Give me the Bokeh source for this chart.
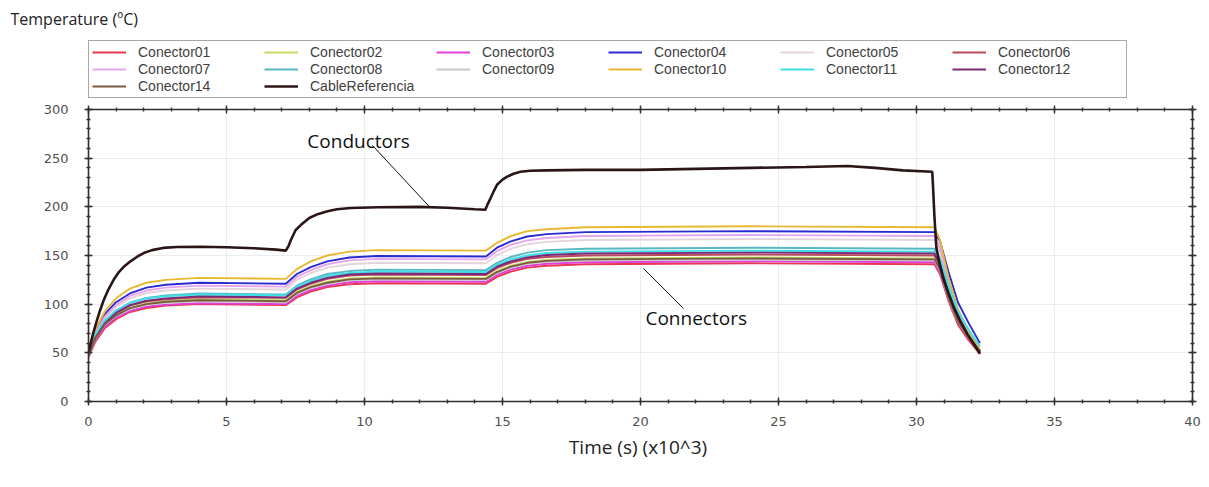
from bokeh.plotting import figure
from bokeh.layouts import column
from bokeh.models import (Legend, LegendItem, Label, LinearAxis, SingleIntervalTicker, Range1d,
                          CustomJSTickFormatter)
from bokeh.embed import file_html
from bokeh.resources import INLINE

# ---------------- data (time in x10^3 s, temperature in ºC) ----------------
time_conn = [0, 0.25, 0.6, 1.0, 1.5, 2.1, 2.8, 4.0, 7.15, 7.55, 8.05, 8.65, 9.45, 10.45,
             14.4, 14.8, 15.3, 15.9, 16.6, 18.0, 24.0, 30.65, 30.85, 31.15, 31.5, 31.9, 32.3]

conector01 = [45, 61.5, 75.5, 84.5, 92, 96, 98.5, 100, 99, 107, 113, 117.5, 120.5, 121.5,
              121, 128, 133.5, 137.5, 139.5, 141, 142, 141, 131, 104, 79, 62.5, 49]
conector02 = [46, 63.5, 78.5, 88.5, 96, 101, 103, 105, 104, 112.5, 118.5, 123, 126.5, 127.5,
              127, 134, 139.5, 143.5, 145.5, 147, 148, 147, 137, 108, 82.5, 65.5, 51]
conector03 = [48, 64, 77, 86, 93, 97.5, 99.5, 101, 100, 108.5, 114.5, 119, 122.5, 123.5,
              123, 130, 135.5, 139.5, 141.5, 143, 144, 143, 133, 106, 81.5, 64.5, 51]
conector04 = [50, 72, 90, 102, 111, 117, 120, 122, 121, 131, 138, 144, 148, 149.5,
              149, 158, 164.5, 169.5, 172, 174, 175, 174, 165, 134, 102, 80, 60]
conector05 = [50, 70, 86, 97.5, 106, 111.5, 114, 116, 115, 125, 132, 137.5, 141, 142.5,
              142, 150.5, 157, 161.5, 164, 166, 167, 166, 154, 120, 90, 69, 52]
conector06 = [50, 67, 81.5, 91, 98.5, 103, 105, 107, 106.5, 115, 121, 126, 129.5, 130.5,
              130, 137, 142.5, 146.5, 148.5, 150, 151, 150, 139.5, 110, 84, 66, 51]
conector07 = [49, 70, 87.5, 99, 108.5, 114, 117, 119, 118, 128, 135, 141, 145, 146.5,
              146, 154.5, 161, 165.5, 168, 170, 171, 170, 157.5, 122.5, 91, 70, 52.5]
conector08 = [48, 67, 82.5, 93.5, 101.5, 106.5, 109, 111, 110, 119, 125.5, 131, 134, 135.5,
              135, 142.5, 148.5, 153, 155.5, 157, 158, 157, 146, 114.5, 86.5, 67.5, 51.5]
conector09 = [50, 66, 79, 88, 95, 99.5, 101.5, 103, 102, 110.5, 116.5, 121, 124.5, 125.5,
              125, 132, 137.5, 141.5, 143.5, 145, 146, 145, 135, 107, 82, 65, 51]
conector10 = [52, 74, 93, 106, 116, 122, 125, 127, 126, 136, 144, 150, 154, 155.5,
              155, 163, 170, 175, 177, 179, 180, 179, 166, 128, 95, 72, 53]
conector11 = [51, 69, 83.5, 93.5, 101, 106, 108, 110, 109, 118, 124, 129, 132, 133.5,
              133, 140.5, 146, 150, 152.5, 154, 155, 154, 146.5, 120, 92.5, 73.5, 56.5]
conector12 = [47, 65.5, 80.5, 91, 99, 103.5, 106, 108, 107, 116, 122, 127, 130.5, 131.5,
              131, 138.5, 144, 148, 150.5, 152, 153, 152, 141.5, 111.5, 84.5, 66.5, 51.5]
conector14 = [49, 65.5, 79.5, 88.5, 96, 100, 102.5, 104, 103, 111.5, 117.5, 122, 125.5, 126.5,
              126, 133, 138.5, 142.5, 144.5, 146, 147, 146, 136, 107.5, 82.5, 65, 51]

time_cable = [0, 0.08, 0.17, 0.27, 0.4, 0.55, 0.72, 0.91, 1.1, 1.3, 1.52, 1.75, 2.0, 2.3,
              2.7, 3.2, 4.0, 5.0, 6.0, 6.8, 7.15,
              7.25, 7.35, 7.5, 7.7, 8.0, 8.3, 8.66, 9.0, 9.5, 10.5, 12.0, 13.0, 14.0, 14.38,
              14.45, 14.57, 14.7, 14.81, 15.0, 15.17, 15.4, 15.65, 16.0, 16.6, 18.0, 20.0,
              22.0, 24.0, 26.0, 27.5, 28.5, 29.5, 30.57,
              30.6, 30.65, 30.72, 30.85, 30.95, 31.15, 31.35, 31.6, 31.85, 32.1, 32.3]
cable_referencia = [50, 60, 70, 80, 92, 104, 115, 125, 133, 139, 144, 148.5, 152.5, 155.5,
                    157.8, 158.8, 159, 158.5, 157.5, 156, 155,
                    160, 167, 176, 181.5, 188.5, 192.5, 195.5, 197.5, 198.8, 199.5, 200, 199,
                    197.5, 197,
                    202, 209, 217, 223, 228, 231, 234, 236, 237, 237.5, 238, 238,
                    239, 240, 241, 242, 240, 237.5, 236,
                    220, 190, 158, 140, 128, 112, 97, 82, 69, 58, 49]

series_names = ["Conector01", "Conector02", "Conector03", "Conector04", "Conector05",
                "Conector06", "Conector07", "Conector08", "Conector09", "Conector10",
                "Conector11", "Conector12", "Conector14", "CableReferencia"]
series_values = [conector01, conector02, conector03, conector04, conector05, conector06,
                 conector07, conector08, conector09, conector10, conector11, conector12,
                 conector14, cable_referencia]
series_colors = ["#e8384f", "#c8dc64", "#e040d8", "#2a2ad0", "#e4d4dc", "#b84a5a",
                 "#e6a6ec", "#58b8c4", "#c8c8c8", "#e8b830", "#3ce0e8", "#7a2a78",
                 "#7a5a40", "#2a1616"]

x_ticks_interval = 5
y_ticks_interval = 50

# ---------------- header strip: y-axis title + legend ----------------
head_h = 99
head = figure(width=1209, height=head_h, output_backend="svg", toolbar_location=None,
              x_range=Range1d(0, 1), y_range=Range1d(0, 1),
              x_axis_type=None, y_axis_type=None,
              min_border_top=30, min_border_bottom=0, min_border_left=88, min_border_right=17)
head.outline_line_color = None
head.xgrid.visible = False
head.ygrid.visible = False

head.title.text = "Temperature (ºC)"
head.title.align = "left"
head.title.offset = -78
head.title.text_font = "Open Sans"
head.title.text_font_style = "normal"
head.title.text_font_size = "16px"
head.title.text_color = "#222222"
head.title.standoff = 2

nan = float("nan")
head_items = []
for i, name in enumerate(series_names):
    lw = 2.6 if name == "CableReferencia" else 1.9
    r = head.line(x=[nan], y=[nan], line_color=series_colors[i], line_width=lw)
    head_items.append(LegendItem(label=name, renderers=[r]))

legend = Legend(items=head_items, location=(0, 1), orientation="horizontal", ncols=6,
                glyph_width=34, glyph_height=14, label_height=14, label_width=125,
                label_standoff=12, spacing=1, padding=3, margin=0,
                label_text_font="Liberation Sans", label_text_font_size="14px",
                label_text_color="#404040", border_line_color="#505050",
                border_line_width=1.5, background_fill_color="white", background_fill_alpha=1)
head.add_layout(legend, "center")

# ---------------- main chart ----------------
p = figure(width=1209, height=487 - head_h, output_backend="svg", toolbar_location=None,
           x_range=Range1d(0, 40), y_range=Range1d(0, 300),
           min_border_left=88, min_border_right=17, min_border_top=10, min_border_bottom=86)
p.outline_line_color = None
p.background_fill_color = "white"
p.border_fill_color = "white"

for i, name in enumerate(series_names):
    xs = time_cable if name == "CableReferencia" else time_conn
    lw = 2.6 if name == "CableReferencia" else 1.9
    p.line(xs, series_values[i], line_color=series_colors[i], line_width=lw)


def style_axis(ax):
    ax.axis_line_color = "#303030"
    ax.axis_line_width = 1.6
    ax.major_tick_line_color = "#303030"
    ax.minor_tick_line_color = "#303030"
    ax.major_tick_line_width = 1.4
    ax.minor_tick_line_width = 1.4
    ax.major_tick_in = 4
    ax.major_tick_out = 4
    ax.minor_tick_in = 2
    ax.minor_tick_out = 2


for ax in [p.xaxis[0], p.yaxis[0]]:
    style_axis(ax)
    ax.major_label_text_font = "DejaVu Sans"
    ax.major_label_text_font_size = "13px"
    ax.major_label_text_color = "#505050"
p.xaxis[0].ticker = SingleIntervalTicker(interval=x_ticks_interval, num_minor_ticks=5)
p.yaxis[0].ticker = SingleIntervalTicker(interval=y_ticks_interval, num_minor_ticks=5)
p.xaxis[0].major_label_standoff = 11
p.yaxis[0].major_label_standoff = 16

p.xaxis[0].axis_label = "Time (s)  (x10^3)"
p.xaxis[0].axis_label_text_font = "Open Sans"
p.xaxis[0].axis_label_text_font_style = "normal"
p.xaxis[0].axis_label_text_font_size = "19px"
p.xaxis[0].axis_label_text_color = "#222222"
p.xaxis[0].axis_label_standoff = 5

blank = CustomJSTickFormatter(code="return ''")
top_axis = LinearAxis(ticker=SingleIntervalTicker(interval=x_ticks_interval, num_minor_ticks=5),
                      formatter=blank)
right_axis = LinearAxis(ticker=SingleIntervalTicker(interval=y_ticks_interval, num_minor_ticks=5),
                        formatter=blank)
for ax in [top_axis, right_axis]:
    style_axis(ax)
    ax.major_label_standoff = 0
p.add_layout(top_axis, "above")
p.add_layout(right_axis, "right")

p.xgrid.ticker = SingleIntervalTicker(interval=x_ticks_interval)
p.ygrid.ticker = SingleIntervalTicker(interval=y_ticks_interval)
p.xgrid.grid_line_color = "#ececec"
p.ygrid.grid_line_color = "#ececec"

# annotations
conductors_text = (7.93, 268)
conductors_line = ([10.29, 12.39], [263, 199])
connectors_text = (20.18, 86)
connectors_line = ([20.11, 21.56], [136.6, 95.5])
p.add_layout(Label(x=conductors_text[0], y=conductors_text[1], text="Conductors",
                   text_font="Open Sans", text_font_size="19px", text_color="#111111",
                   text_baseline="middle"))
p.add_layout(Label(x=connectors_text[0], y=connectors_text[1], text="Connectors",
                   text_font="Open Sans", text_font_size="19px", text_color="#111111",
                   text_baseline="middle"))
p.line(conductors_line[0], conductors_line[1], line_color="#111111", line_width=1)
p.line(connectors_line[0], connectors_line[1], line_color="#111111", line_width=1)

layout = column(head, p, spacing=0)
open("out.html", "w").write(file_html(layout, INLINE))
